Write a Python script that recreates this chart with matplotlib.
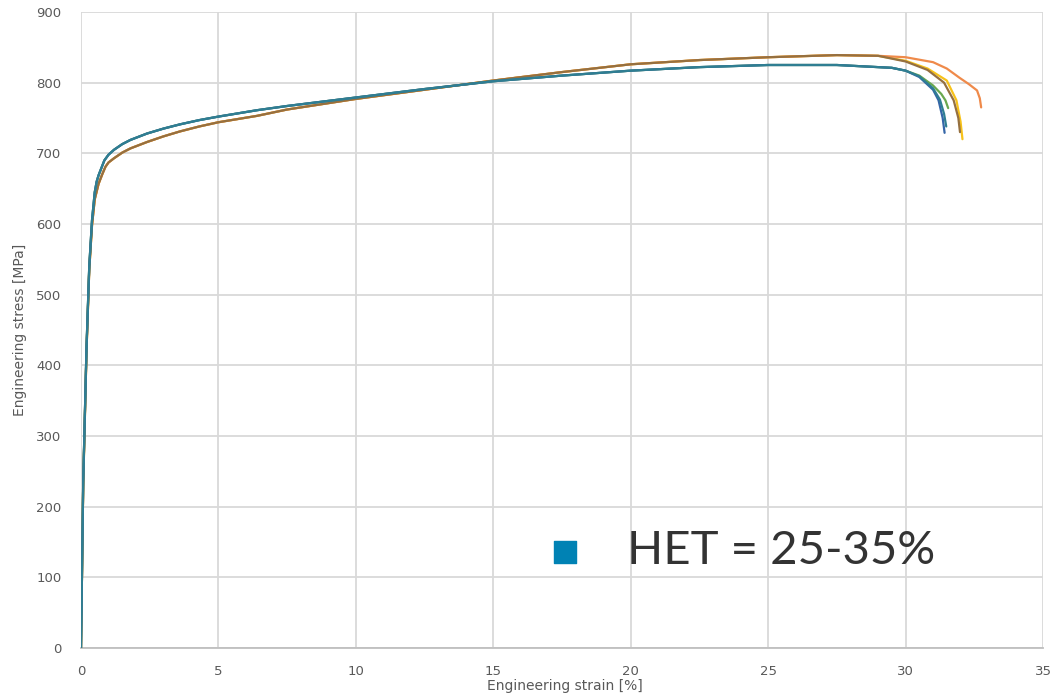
import matplotlib
matplotlib.use("Agg")
import matplotlib.pyplot as plt

# ---- data ----
# blue group (shared body of the curves)
strain_blue = [0, 0.08, 0.2, 0.3, 0.4, 0.5, 0.57, 0.64, 0.71, 0.85, 1.0, 1.2, 1.5, 1.8,
               2.4, 3.0, 3.6, 4.3, 5, 6.4, 7.5, 10, 12.5, 15, 17.5, 20, 22.5, 25,
               27.5, 28.5, 29.5, 30]
stress_blue = [0, 235, 425, 540, 605, 645, 660, 669, 676, 690, 698, 705, 713, 719,
               728, 735, 741, 747, 752, 761, 767, 779, 791, 802, 810, 817, 822, 825,
               825, 823, 821, 817]

# orange group (shared body of the curves)
strain_org = [0, 0.08, 0.2, 0.3, 0.4, 0.5, 0.64, 0.78, 0.89, 1.0, 1.2, 1.5, 1.8,
              2.4, 3.0, 3.6, 4.3, 5, 6.4, 7.5, 10, 12.5, 15, 17.5, 20, 22.5, 25,
              27.5, 29]
stress_org = [0, 230, 420, 535, 598, 635, 657, 671, 681, 687, 693, 701, 707,
              716, 724, 731, 738, 744, 753, 762, 777, 790, 803, 815, 826, 832, 836,
              839, 838]

# fracture tails of the individual specimens
tail_blue_x = [30.5, 31.0, 31.2, 31.35, 31.42]
tail_blue_y = [808, 790, 775, 750, 729]
tail_teal_x = [30.5, 31.0, 31.25, 31.4, 31.48]
tail_teal_y = [809, 792, 776, 756, 738]
tail_green_x = [30.5, 31.0, 31.3, 31.45, 31.55]
tail_green_y = [810, 796, 784, 775, 764]

tail_orange_x = [30, 31, 31.5, 31.96, 32.3, 32.6, 32.7, 32.75]
tail_orange_y = [836, 829, 820, 807, 798, 789, 778, 765]
tail_yellow_x = [30, 30.8, 31.5, 31.85, 32.0, 32.07]
tail_yellow_y = [831, 820, 803, 775, 745, 720]
tail_gray_x = [30, 30.8, 31.4, 31.75, 31.92, 31.98]
tail_gray_y = [830, 818, 800, 775, 750, 730]

x_ticks = [0, 5, 10, 15, 20, 25, 30, 35]
y_ticks = [0, 100, 200, 300, 400, 500, 600, 700, 800, 900]

legend_label = "HET = 25-35%"

# ---- figure ----
fig = plt.figure(figsize=(10.54, 6.94), dpi=100)
ax = fig.add_axes([81 / 1054, 46 / 694, 962 / 1054, 636 / 694])

series = [
    (strain_org, stress_org, tail_yellow_x, tail_yellow_y, "#f7c21a"),
    (strain_org, stress_org, tail_orange_x, tail_orange_y, "#ef8a4a"),
    (strain_org, stress_org, tail_gray_x, tail_gray_y, "#957040"),
    (strain_blue, stress_blue, tail_green_x, tail_green_y, "#6aa84f"),
    (strain_blue, stress_blue, tail_blue_x, tail_blue_y, "#3566a8"),
    (strain_blue, stress_blue, tail_teal_x, tail_teal_y, "#2f7e92"),
]
for bx, by, tx, ty, col in series:
    ax.plot(list(bx) + list(tx), list(by) + list(ty), color=col, lw=1.6,
            solid_capstyle="round", solid_joinstyle="round", zorder=3)

ax.set_xlim(0, 35)
ax.set_ylim(0, 900)
ax.set_xticks(x_ticks)
ax.set_yticks(y_ticks)
ax.grid(True, color="#d9d9d9", lw=1.3, zorder=0)
ax.set_axisbelow(True)
for s in ["top", "right", "left"]:
    ax.spines[s].set_visible(False)
ax.spines["bottom"].set_color("#bfbfbf")
ax.spines["bottom"].set_linewidth(1.3)
ax.tick_params(axis="both", length=0, labelsize=9.5, labelcolor="#595959")
ax.tick_params(axis="x", pad=12)
ax.tick_params(axis="y", pad=14)

fig.text(565 / 1054, 1 - 686 / 694, "Engineering strain [%]", ha="center",
         va="center", fontsize=10, color="#595959")
fig.text(20 / 1054, 1 - 330 / 694, "Engineering stress [MPa]", ha="center",
         va="center", rotation=90, fontsize=10, color="#595959")

# legend-like annotation
ax.scatter([(565 - 81) / 962 * 35], [(648 - 552) / 636 * 900], marker="s", s=250,
           color="#0082b4", zorder=4, clip_on=False)
fig.text(627 / 1054, 1 - 551 / 694, legend_label, ha="left", va="center",
         fontsize=34, color="#333333", family="Lato")

fig.savefig("out.png", dpi=100)
